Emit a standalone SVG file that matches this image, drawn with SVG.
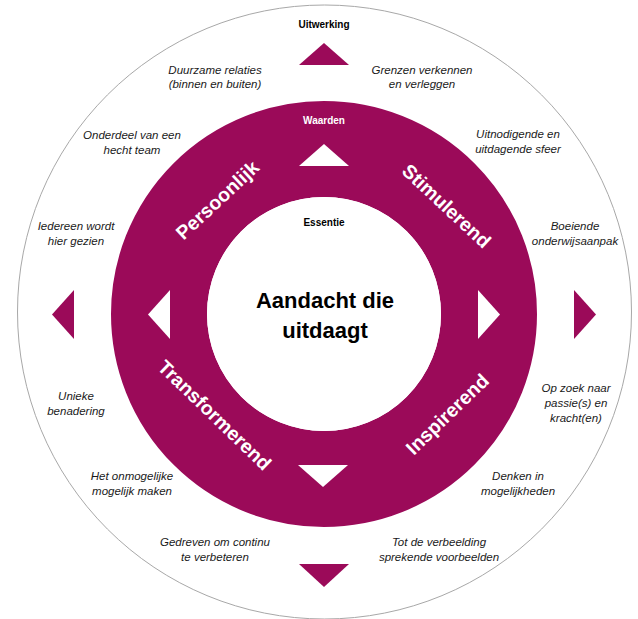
<svg xmlns="http://www.w3.org/2000/svg" width="638" height="619" viewBox="0 0 638 619">
<style>
.it{font-family:"Liberation Sans",Arial,sans-serif;font-style:italic;font-size:11.5px;fill:#1a1a1a;text-anchor:middle}
.lbl{font-family:"Liberation Sans",Arial,sans-serif;font-weight:bold;font-size:10px;text-anchor:middle}
.ring{font-family:"Liberation Sans",Arial,sans-serif;font-weight:bold;font-size:19.5px;fill:#fff;text-anchor:middle}
.p{fill:#9B0A59}
.w{fill:#fff}
</style>
<rect width="638" height="619" fill="#fff"/>
<g id="outer">
<circle cx="324.5" cy="312" r="307" fill="#fff" stroke="#a8a8a8" stroke-width="1"/>
</g>
<g id="ring">
<circle cx="324" cy="314" r="165" fill="none" stroke="#9B0A59" stroke-width="96"/>
</g>
<g id="center">
<circle cx="324" cy="314" r="117" fill="#fff"/>
<text class="lbl" x="324" y="226" font-size="9.5" fill="#000">Essentie</text>
<text x="325" y="308" font-family="Liberation Sans,Arial,sans-serif" font-weight="bold" font-size="22" text-anchor="middle" fill="#000">Aandacht die</text>
<text x="325" y="338" font-family="Liberation Sans,Arial,sans-serif" font-weight="bold" font-size="22" text-anchor="middle" fill="#000">uitdaagt</text>
</g>
<g id="arrows">
<polygon class="p" points="324,43 349,65 299,65"/>
<polygon class="w" points="324,144 349,166 299,166"/>
<polygon class="w" points="298,465 348,465 323,487"/>
<polygon class="p" points="299,564 349,564 324,587"/>
<polygon class="p" points="52,314.5 74,290 74,339"/>
<polygon class="w" points="148,314.5 170,290 170,339"/>
<polygon class="w" points="500,314.5 478,290 478,339"/>
<polygon class="p" points="596,314.5 574,290 574,339"/>
</g>
<g id="labels">
<text class="lbl" x="324" y="28" fill="#000">Uitwerking</text>
<text class="lbl" x="324" y="124" fill="#fff">Waarden</text>
</g>
<g id="ring-labels">
<text class="ring" transform="translate(222,205) rotate(-43)">Persoonlijk</text>
<text class="ring" transform="translate(442,211) rotate(43)">Stimulerend</text>
<text class="ring" transform="translate(210,420) rotate(44)">Transformerend</text>
<text class="ring" transform="translate(452,419) rotate(-44)">Inspirerend</text>
</g>
<g id="statements">
<text class="it" x="215" y="74">Duurzame relaties</text>
<text class="it" x="215" y="88">(binnen en buiten)</text>
<text class="it" x="422" y="74">Grenzen verkennen</text>
<text class="it" x="422" y="88">en verleggen</text>
<text class="it" x="132" y="139">Onderdeel van een</text>
<text class="it" x="132" y="154">hecht team</text>
<text class="it" x="518" y="138">Uitnodigende en</text>
<text class="it" x="518" y="153">uitdagende sfeer</text>
<text class="it" x="76" y="230">Iedereen wordt</text>
<text class="it" x="76" y="245">hier gezien</text>
<text class="it" x="575" y="230">Boeiende</text>
<text class="it" x="575" y="245">onderwijsaanpak</text>
<text class="it" x="76" y="400">Unieke</text>
<text class="it" x="76" y="415">benadering</text>
<text class="it" x="576" y="392">Op zoek naar</text>
<text class="it" x="576" y="407">passie(s) en</text>
<text class="it" x="576" y="422">kracht(en)</text>
<text class="it" x="132" y="480">Het onmogelijke</text>
<text class="it" x="132" y="495">mogelijk maken</text>
<text class="it" x="518" y="480">Denken in</text>
<text class="it" x="518" y="495">mogelijkheden</text>
<text class="it" x="215" y="546">Gedreven om continu</text>
<text class="it" x="215" y="561">te verbeteren</text>
<text class="it" x="439" y="546">Tot de verbeelding</text>
<text class="it" x="439" y="561">sprekende voorbeelden</text>
</g>
</svg>
